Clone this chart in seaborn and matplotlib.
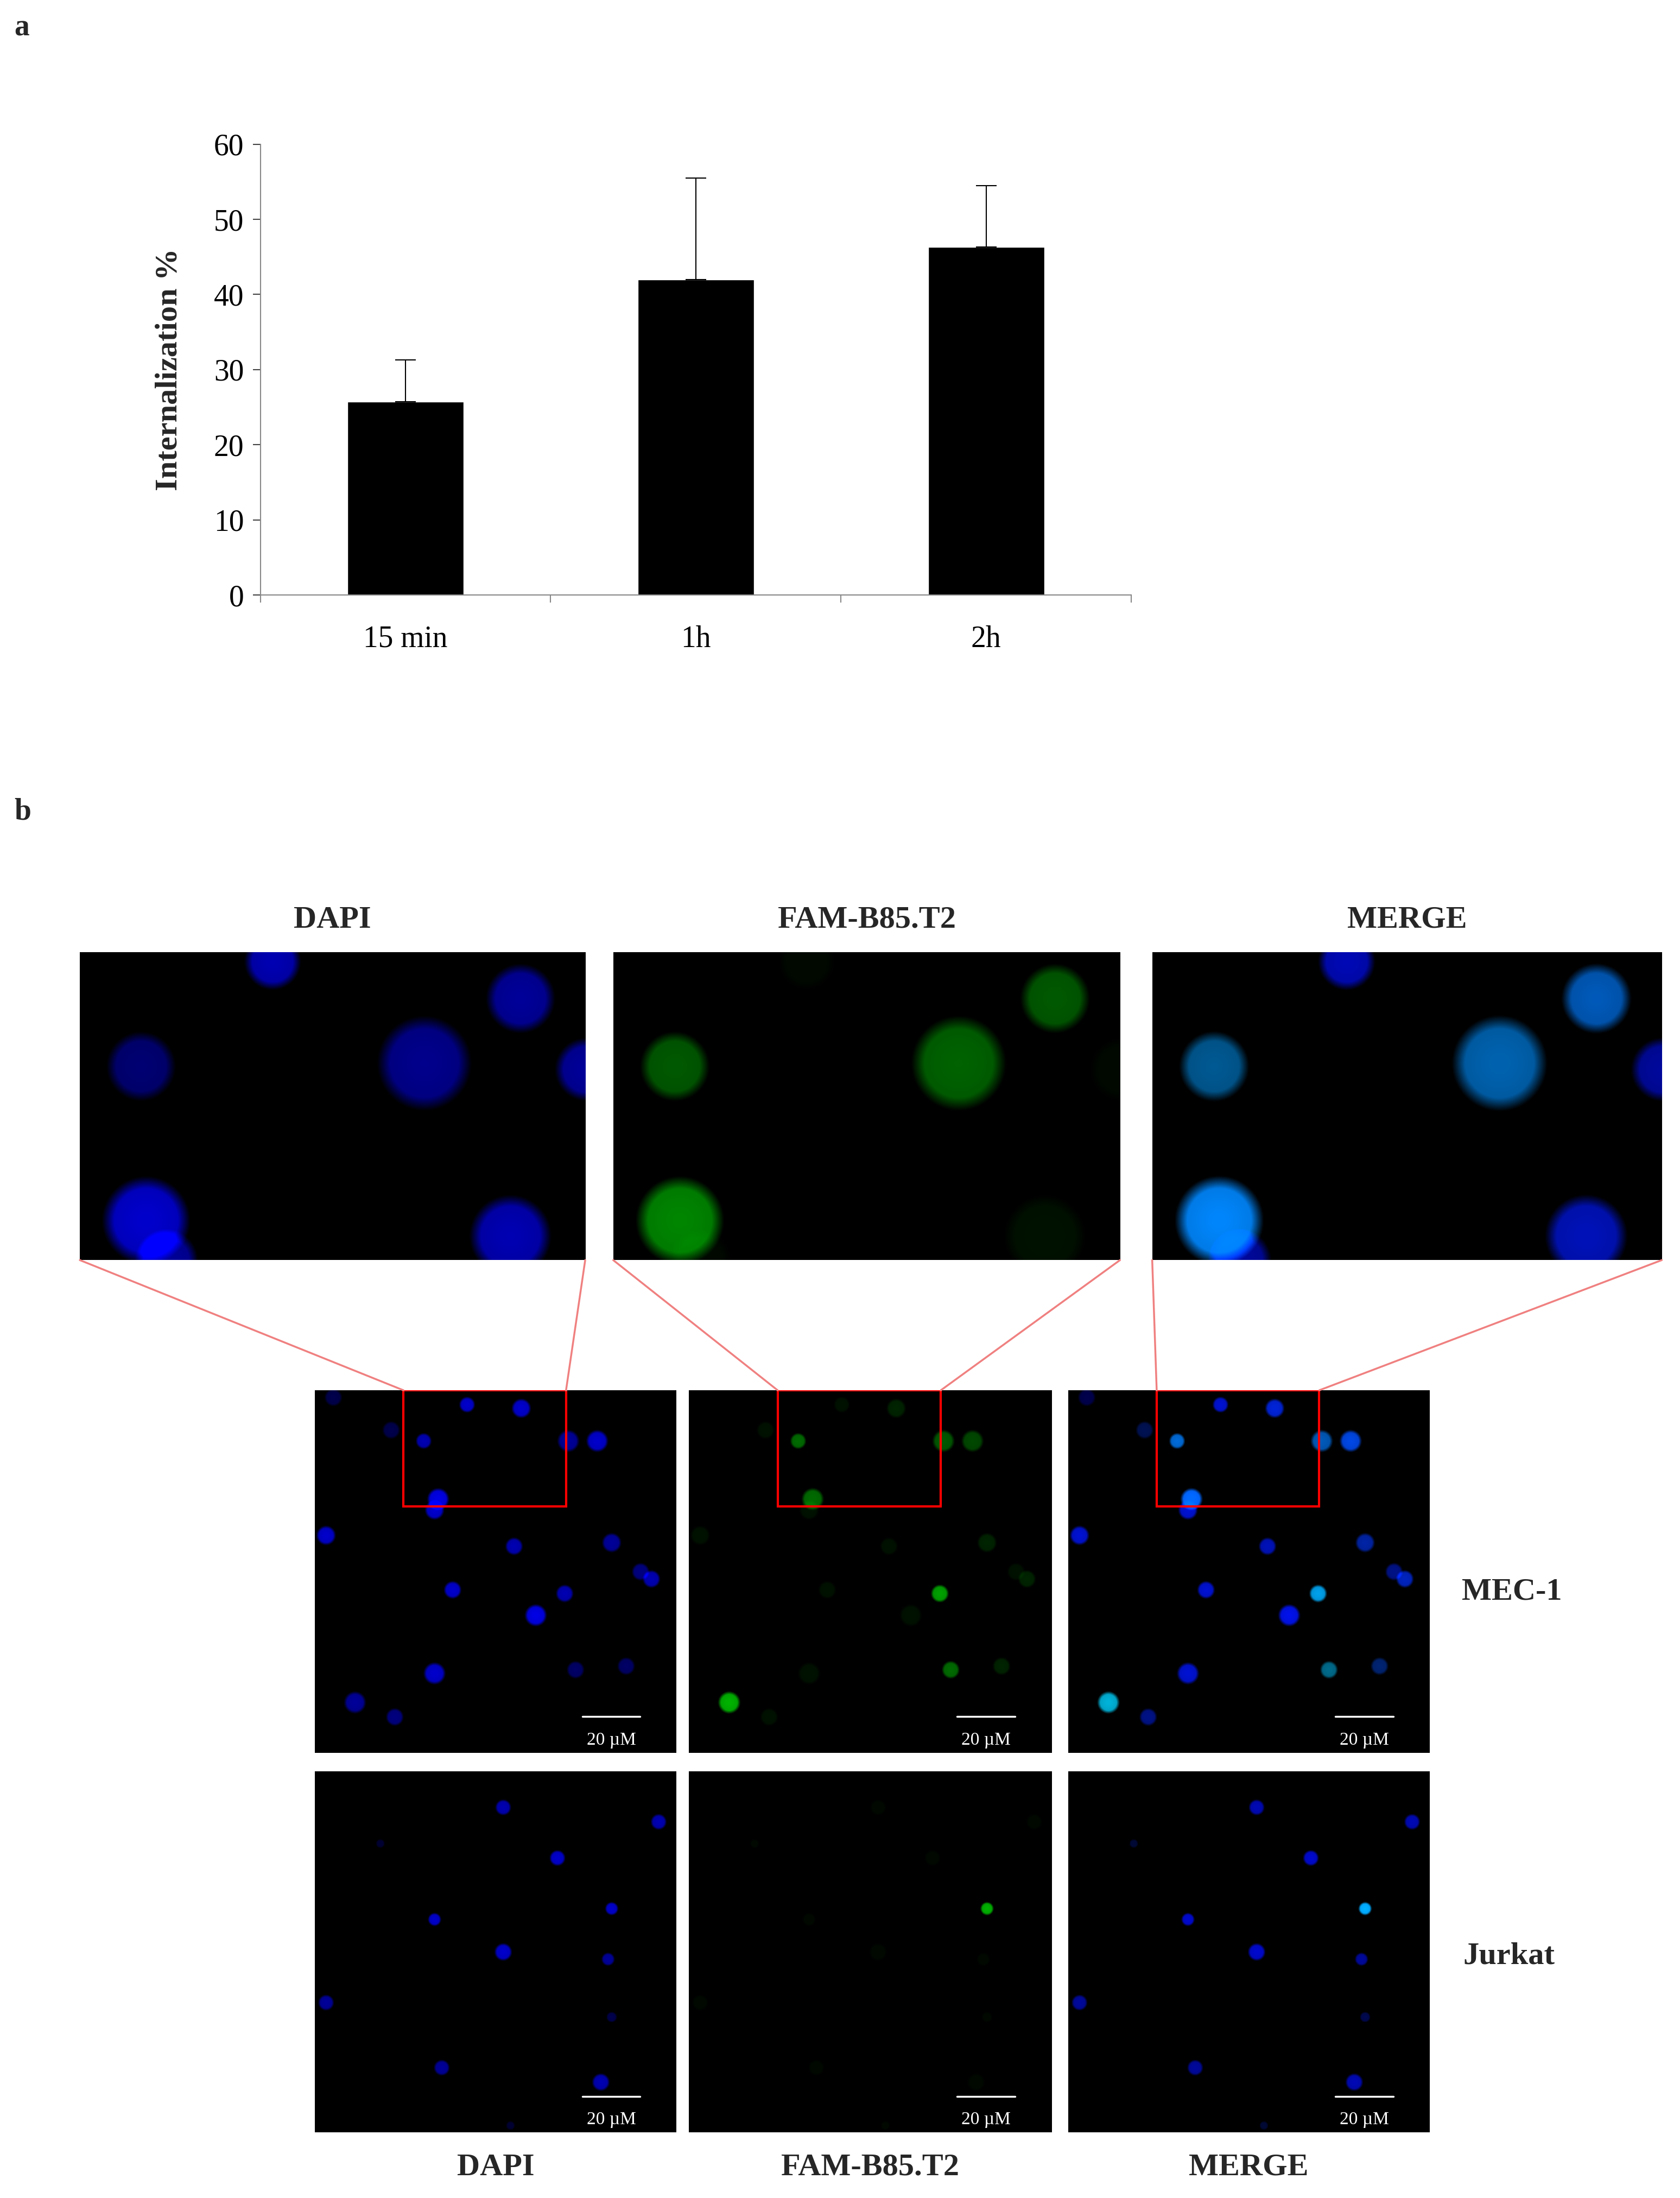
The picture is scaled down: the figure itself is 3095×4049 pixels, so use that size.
import numpy as np
import matplotlib
matplotlib.use("Agg")
import matplotlib.pyplot as plt
import seaborn as sns
import pandas as pd

sns.set_theme(style="white")
plt.rcParams['font.family'] = ['Liberation Serif', 'DejaVu Serif']

# ---- data ----
times = ["15 min", "1h", "2h"]
internalization = [25.7, 42.0, 46.3]
err = [5.6, 13.5, 8.2]
yticks = [0, 10, 20, 30, 40, 50, 60]

channels = ["DAPI", "FAM-B85.T2", "MERGE"]
cell_lines = ["MEC-1", "Jurkat"]
# cells: x, y (fraction of panel), radius, dapi intensity, fam intensity
mec_x = [0.42, 0.30, 0.57, 0.70, 0.78, 0.34, 0.33, 0.03, 0.55, 0.82, 0.90, 0.93, 0.38, 0.61, 0.72, 0.33, 0.11, 0.22, 0.86, 0.69, 0.05, 0.21]
mec_y = [0.04, 0.14, 0.05, 0.14, 0.14, 0.30, 0.33, 0.40, 0.43, 0.42, 0.50, 0.52, 0.55, 0.62, 0.77, 0.78, 0.86, 0.90, 0.76, 0.56, 0.02, 0.11]
mec_r = [0.018, 0.018, 0.022, 0.025, 0.025, 0.025, 0.022, 0.022, 0.02, 0.022, 0.02, 0.02, 0.02, 0.025, 0.02, 0.025, 0.025, 0.02, 0.02, 0.02, 0.02, 0.02]
mec_d = [0.8, 0.7, 0.8, 0.6, 0.8, 0.9, 0.8, 0.8, 0.7, 0.6, 0.5, 0.7, 0.8, 0.9, 0.4, 0.8, 0.6, 0.5, 0.4, 0.7, 0.3, 0.3]
mec_f = [0.1, 0.6, 0.2, 0.5, 0.4, 0.6, 0.1, 0.1, 0.1, 0.2, 0.1, 0.2, 0.1, 0.1, 0.6, 0.1, 1.0, 0.1, 0.2, 0.9, 0.0, 0.1]
jur_x = [0.52, 0.95, 0.67, 0.33, 0.52, 0.82, 0.81, 0.82, 0.03, 0.35, 0.79, 0.18, 0.54]
jur_y = [0.10, 0.14, 0.24, 0.41, 0.50, 0.38, 0.52, 0.68, 0.64, 0.82, 0.86, 0.20, 0.98]
jur_r = [0.018, 0.018, 0.018, 0.015, 0.02, 0.015, 0.015, 0.012, 0.018, 0.018, 0.02, 0.01, 0.01]
jur_d = [0.7, 0.7, 0.8, 0.8, 0.8, 0.8, 0.6, 0.3, 0.6, 0.6, 0.7, 0.2, 0.2]
jur_f = [0.05, 0.05, 0.05, 0.05, 0.05, 1.0, 0.05, 0.05, 0.05, 0.05, 0.05, 0.05, 0.05]
zoom_x = [0.38, 0.12, 0.87, 0.68, 0.13, 0.85, 1.0, 0.17]
zoom_y = [0.03, 0.37, 0.15, 0.36, 0.87, 0.92, 0.38, 1.0]
zoom_r = [0.045, 0.055, 0.055, 0.075, 0.07, 0.065, 0.05, 0.05]
zoom_d = [0.7, 0.45, 0.6, 0.55, 0.8, 0.7, 0.6, 0.6]
zoom_f = [0.05, 0.5, 0.5, 0.55, 0.75, 0.1, 0.05, 0.05]
scale_label = "20 µM"

W, H = 3095, 4049
fig = plt.figure(figsize=(W / 100, H / 100), dpi=100)
fig.patch.set_facecolor("white")
S = 3095 / 1200.0
HD = H / S


def rect(x0, y0, x1, y1):
    return [x0 / 1200, 1 - y1 / HD, (x1 - x0) / 1200, (y1 - y0) / HD]


fs = 40
# ---- panel a ----
ax = fig.add_axes(rect(186, 103, 808, 425))
df = pd.DataFrame({"t": times, "v": internalization})
sns.barplot(data=df, x="t", y="v", color="black", width=0.4, ax=ax, saturation=1)
ax.errorbar(range(3), internalization, yerr=[[0, 0, 0], err], fmt="none",
            ecolor="black", elinewidth=1.5, capsize=14, capthick=1.5)
ax.set_ylim(0, 60)
ax.set_xlim(-0.5, 2.5)
ax.set_yticks(yticks)
ax.tick_params(labelsize=fs, length=10, width=1.5, direction="out", left=True, bottom=True, colors="#444", pad=12)
for l in ax.get_xticklabels() + ax.get_yticklabels():
    l.set_color("black")
ax.set_xticks([-0.5, 0.5, 1.5, 2.5], minor=True)
ax.tick_params(which="minor", length=10, width=1.5, bottom=True, colors="#888")
ax.tick_params(axis="x", which="major", length=0, pad=40)
ax.set_xlabel("")
ax.set_ylabel("Internalization %", fontsize=42, fontweight="bold", labelpad=40)
for s in ["top", "right"]:
    ax.spines[s].set_visible(False)
for s in ["left", "bottom"]:
    ax.spines[s].set_color("#888")
    ax.spines[s].set_linewidth(1.5)

fig.text(10 / 1200, 1 - 20 / HD, "a", fontsize=40, fontweight="bold", va="center")
fig.text(10 / 1200, 1 - 580 / HD, "b", fontsize=40, fontweight="bold", va="center")


def render(xs, ys, rs, ds, fsx, ch, nx, ny):
    yy, xx = np.mgrid[0:ny, 0:nx]
    xx = xx / nx
    yy = yy / ny * (ny / nx)
    img = np.zeros((ny, nx, 3))
    for x, y, r, d, f in zip(xs, ys, rs, ds, fsx):
        yv = y * ny / nx
        dist = np.sqrt((xx - x) ** 2 + (yy - yv) ** 2) / r
        g = np.clip((1.25 - dist) / 0.35, 0, 1) * (0.85 + 0.15 * np.exp(-dist ** 2))
        if ch in ("DAPI", "MERGE"):
            img[..., 2] += g * d
        if ch in ("FAM-B85.T2", "MERGE"):
            img[..., 1] += g * f * 0.7
            if ch == "MERGE":
                img[..., 2] += g * f * 0.25
    return np.clip(img, 0, 1)


def panel(r, xs, ys, rs, ds, fsx, ch, scalebar=False):
    a = fig.add_axes(rect(*r))
    nx = 400
    ny = int(nx * (r[3] - r[1]) / (r[2] - r[0]))
    a.imshow(render(xs, ys, rs, ds, fsx, ch, nx, ny), extent=[0, 1, 1, 0], aspect="auto")
    a.set_xlim(0, 1); a.set_ylim(1, 0)
    a.set_xticks([]); a.set_yticks([])
    for s in a.spines.values():
        s.set_visible(False)
    if scalebar:
        a.plot([0.74, 0.90], [0.90, 0.90], color="white", lw=2.5)
        a.text(0.82, 0.965, scale_label, color="white", fontsize=24, ha="center", va="center")
    return a


top = [(57, 680, 418, 900), (438, 680, 800, 900), (823, 680, 1187, 900)]
mid = [(225, 993, 483, 1252), (492, 993, 751, 1252), (763, 993, 1021, 1252)]
bot = [(225, 1265, 483, 1523), (492, 1265, 751, 1523), (763, 1265, 1021, 1523)]
for i, ch in enumerate(channels):
    panel(top[i], zoom_x, zoom_y, zoom_r, zoom_d, zoom_f, ch)
    fig.text((top[i][0] + top[i][2]) / 2400, 1 - 657 / HD, ch, fontsize=42,
             fontweight="bold", ha="center", va="center")
    am = panel(mid[i], mec_x, mec_y, mec_r, mec_d, mec_f, ch, True)
    am.add_patch(plt.Rectangle((0.245, 0.0), 0.45, 0.32, fill=False, ec="red", lw=3))
    panel(bot[i], jur_x, jur_y, jur_r, jur_d, jur_f, ch, True)
    fig.text((bot[i][0] + bot[i][2]) / 2400, 1 - 1548 / HD, ch, fontsize=42,
             fontweight="bold", ha="center", va="center")
    bx0 = mid[i][0] + 0.245 * (mid[i][2] - mid[i][0])
    bx1 = mid[i][0] + 0.695 * (mid[i][2] - mid[i][0])
    for (xa, xb) in [(top[i][0], bx0), (top[i][2], bx1)]:
        fig.add_artist(plt.Line2D([xa / 1200, xb / 1200], [1 - 900 / HD, 1 - 993 / HD],
                                  color="#f08080", lw=2.5))

fig.text(1080 / 1200, 1 - 1137 / HD, cell_lines[0], fontsize=42, fontweight="bold", ha="center", va="center")
fig.text(1078 / 1200, 1 - 1397 / HD, cell_lines[1], fontsize=42, fontweight="bold", ha="center", va="center")

fig.savefig("out.png", dpi=100, facecolor="white")
